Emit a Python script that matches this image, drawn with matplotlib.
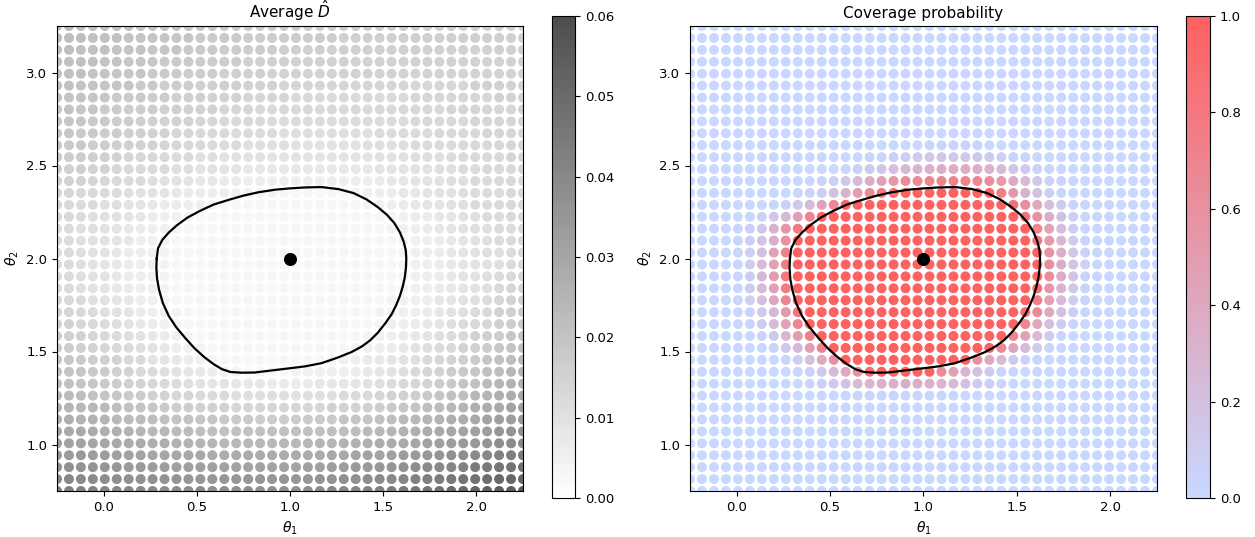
import numpy as np
import matplotlib
matplotlib.use("Agg")
import matplotlib.pyplot as plt
from matplotlib.colors import LinearSegmentedColormap

# ---------------- data ----------------
theta1_values = np.linspace(-0.25, 2.25, 40)   # grid columns
theta2_values = np.linspace(3.25, 0.75, 40)    # grid rows (top -> bottom)

# Average D-hat, in units of 0.001 (rows top -> bottom, columns left -> right)
avg_D_milli_rows = [
"23 23 22 22 21 21 21 20 20 20 20 19 19 19 18 18 18 18 18 18 18 17 17 17 17 17 17 17 17 17 17 16 16 16 16 16 16 16 16 16",
"23 22 22 21 21 21 20 20 20 19 19 19 18 18 18 18 17 17 17 17 17 17 17 17 16 16 16 16 16 16 16 16 16 16 16 16 16 16 16 16",
"22 22 21 21 21 20 20 20 19 19 19 18 18 18 17 17 17 17 17 16 16 16 16 16 16 16 16 16 16 16 16 15 15 15 15 15 15 16 16 16",
"22 21 21 21 20 20 19 19 19 18 18 18 17 17 17 17 16 16 16 16 15 15 15 15 15 15 15 15 15 15 15 15 15 15 15 15 15 15 15 15",
"21 21 21 20 20 19 19 19 18 18 18 17 17 17 16 16 16 16 15 15 15 15 15 15 15 15 15 15 15 15 15 15 15 15 15 15 15 15 15 15",
"21 21 20 20 19 19 19 18 18 17 17 17 16 16 16 16 15 15 15 14 14 14 14 14 14 14 14 14 14 14 14 14 14 14 14 15 15 15 15 15",
"21 20 20 19 19 18 18 18 17 17 16 16 16 15 15 15 14 14 14 14 13 13 13 13 13 13 13 13 13 13 14 14 14 14 14 14 14 15 15 15",
"20 20 19 19 18 18 17 17 17 16 16 15 15 15 14 14 14 13 13 13 13 13 13 13 13 13 13 13 13 13 13 13 13 14 14 14 14 14 14 15",
"20 19 19 18 18 17 17 16 16 15 15 15 14 14 13 13 13 13 12 12 12 12 12 12 12 12 12 12 12 12 13 13 13 13 13 14 14 14 14 14",
"19 19 18 18 17 17 16 16 15 15 14 14 13 13 13 12 12 12 12 11 11 11 11 11 11 11 11 12 12 12 12 12 13 13 13 13 14 14 14 14",
"19 18 18 17 17 16 16 15 15 14 14 13 13 12 12 12 11 11 11 11 10 10 10 10 10 10 11 11 11 11 12 12 12 12 13 13 13 14 14 14",
"18 17 17 16 16 15 14 14 13 13 12 12 11 11 10 10 10 10 9 9 9 9 9 9 9 9 9 10 10 10 11 11 11 12 12 13 13 13 14 14",
"17 16 16 15 15 14 13 13 12 12 11 11 10 10 9 9 8 8 8 8 8 8 8 8 8 8 8 9 9 9 10 10 11 11 12 12 13 13 13 14",
"16 15 15 14 14 13 12 12 11 10 10 9 8 8 7 7 6 6 6 6 6 6 6 6 6 6 6 7 8 8 9 9 10 11 11 12 12 13 13 13",
"15 14 13 13 12 12 11 10 10 9 8 7 7 6 6 5 5 4 4 3 3 3 3 3 3 4 5 6 7 8 8 9 10 10 11 12 12 12 13 13",
"14 13 12 12 11 11 10 9 8 7 7 6 5 4 3 3 3 3 3 3 3 3 3 3 3 3 4 5 6 7 8 9 9 10 11 12 12 12 13 13",
"13 13 12 11 10 10 9 8 7 6 5 4 3 3 3 3 3 3 3 3 3 3 3 3 3 3 3 3 4 5 7 7 8 9 10 11 12 12 13 13",
"13 12 11 11 10 9 8 7 6 5 4 3 3 3 3 3 3 3 3 3 3 3 3 3 3 3 3 3 4 5 6 7 8 9 10 11 11 12 12 13",
"13 12 11 10 10 9 8 6 5 4 3 3 3 3 3 3 3 3 3 3 3 3 3 3 3 3 3 3 3 4 5 6 7 8 9 10 11 12 12 13",
"13 12 11 10 9 8 7 6 5 4 3 3 3 3 3 3 3 3 3 3 3 3 3 3 3 3 3 3 3 4 5 6 7 8 9 10 11 11 12 13",
"12 12 11 10 9 8 7 6 5 4 3 3 3 3 3 3 3 3 3 3 3 3 3 3 3 3 3 3 3 4 5 6 7 8 9 10 10 11 12 13",
"13 12 11 10 9 8 7 6 5 4 3 3 3 3 3 3 3 3 3 3 3 3 3 3 3 3 3 3 3 4 5 6 7 8 9 10 11 12 13 14",
"13 12 11 10 9 8 7 6 5 4 3 3 3 3 3 3 3 3 3 3 3 3 3 3 3 3 3 3 3 4 5 6 7 8 9 10 11 13 14 15",
"14 13 12 11 10 9 8 6 5 4 3 3 3 3 3 3 3 3 3 3 3 3 3 3 3 3 3 3 4 5 5 6 8 9 10 11 12 14 15 16",
"15 14 13 12 11 10 9 7 6 5 4 3 3 3 3 3 3 3 3 3 3 3 3 3 3 3 3 4 4 5 6 7 8 10 11 12 13 15 16 17",
"16 15 14 13 12 11 10 8 7 5 4 3 3 3 3 3 3 3 3 3 3 3 3 3 3 3 3 4 5 6 7 8 9 11 12 13 14 16 17 18",
"17 16 15 14 13 12 11 10 8 7 5 4 3 3 3 3 3 3 3 3 3 3 3 3 3 3 4 5 6 7 8 9 11 12 13 15 16 17 19 20",
"18 17 16 15 14 13 12 11 10 8 6 5 4 3 3 3 3 3 3 3 3 3 3 3 3 4 5 6 7 8 10 11 12 13 15 16 17 19 20 22",
"20 19 18 17 16 15 13 12 10 9 8 7 5 4 3 3 3 3 3 3 3 3 3 4 5 6 7 8 9 10 11 12 14 15 16 18 19 21 22 24",
"21 20 19 18 17 16 15 13 12 11 10 9 8 7 5 4 3 3 3 3 4 5 5 6 6 7 8 9 10 11 13 14 15 17 18 19 21 22 24 25",
"22 21 20 19 18 17 16 15 14 13 12 11 10 9 9 8 8 8 7 7 7 7 8 8 8 9 10 11 12 13 14 15 17 18 20 21 23 24 26 27",
"24 23 22 21 20 19 18 17 16 15 14 14 13 12 12 11 11 11 11 11 10 11 11 11 12 12 13 14 15 16 17 18 20 21 22 24 25 27 28 30",
"26 25 24 24 23 22 21 20 19 18 17 17 16 16 15 14 14 14 14 14 14 14 14 15 15 15 16 17 18 19 20 22 23 24 25 27 28 29 31 32",
"28 27 26 26 25 24 23 23 22 21 20 20 19 19 18 18 18 17 17 17 17 18 18 18 19 19 20 21 22 23 24 25 26 27 28 29 31 32 33 35",
"30 29 29 28 27 27 26 25 24 24 23 23 22 22 21 21 21 21 21 21 21 21 21 22 22 22 23 24 25 26 27 28 29 30 31 32 33 35 36 37",
"32 31 31 30 30 29 28 28 27 27 26 26 25 25 24 24 24 24 24 24 24 24 25 25 26 26 27 28 28 29 30 31 32 33 34 35 36 38 39 40",
"35 34 34 33 33 32 31 31 30 30 29 29 29 28 28 28 28 28 28 28 28 28 28 29 29 30 31 31 32 33 34 35 36 37 38 39 40 42 43 44",
"37 37 36 36 35 35 34 34 33 33 32 32 32 32 31 31 31 31 31 31 31 32 32 33 33 34 34 35 36 37 38 39 40 41 42 44 45 46 47 48",
"40 40 39 39 38 38 37 37 37 36 36 35 35 35 35 35 35 35 35 35 35 35 36 36 37 37 38 39 40 41 42 43 44 45 47 48 49 50 51 52",
"43 43 42 42 41 41 41 40 40 39 39 39 39 38 38 38 38 38 38 38 38 39 39 40 40 41 42 43 44 45 46 47 48 50 51 52 53 54 55 56",
]

# Coverage probability, in percent (rows top -> bottom)
coverage_pct_rows = [
"0 0 0 0 0 0 0 0 0 0 0 0 0 0 0 0 0 0 0 0 0 0 0 0 0 0 0 0 0 0 0 0 0 0 0 0 0 0 0 0",
"0 0 0 0 0 0 0 0 0 0 0 0 0 0 0 0 0 0 0 0 0 0 0 0 0 0 0 0 0 0 0 0 0 0 0 0 0 0 0 0",
"0 0 0 0 0 0 0 0 0 0 0 0 0 0 0 0 0 0 0 0 0 0 0 0 0 0 0 0 0 0 0 0 0 0 0 0 0 0 0 0",
"0 0 0 0 0 0 0 0 0 0 0 0 0 0 0 0 0 0 0 0 0 0 0 0 0 0 0 0 0 0 0 0 0 0 0 0 0 0 0 0",
"0 0 0 0 0 0 0 0 0 0 0 0 0 0 0 0 0 0 0 0 0 0 0 0 0 0 0 0 0 0 0 0 0 0 0 0 0 0 0 0",
"0 0 0 0 0 0 0 0 0 0 0 0 0 0 0 0 0 0 0 0 0 0 0 0 0 0 0 0 0 0 0 0 0 0 0 0 0 0 0 0",
"0 0 0 0 0 0 0 0 0 0 0 0 0 0 0 0 0 0 0 0 0 0 0 0 0 0 0 0 0 0 0 0 0 0 0 0 0 0 0 0",
"0 0 0 0 0 0 0 0 0 0 0 0 0 0 0 0 0 0 0 0 0 0 0 0 0 0 0 0 0 0 0 0 0 0 0 0 0 0 0 0",
"0 0 0 0 0 0 0 0 0 0 0 0 0 0 0 0 0 0 0 0 0 0 0 0 0 0 0 0 0 0 0 0 0 0 0 0 0 0 0 0",
"0 0 0 0 0 0 0 0 0 0 0 0 0 0 0 0 0 0 0 0 0 0 0 0 0 0 0 0 0 0 0 0 0 0 0 0 0 0 0 0",
"0 0 0 0 0 0 0 0 0 0 0 0 0 0 0 0 0 0 0 0 2 2 2 2 2 0 0 0 0 0 0 0 0 0 0 0 0 0 0 0",
"0 0 0 0 0 0 0 0 0 0 0 0 0 0 0 2 4 6 9 11 13 14 14 14 13 10 7 4 2 0 0 0 0 0 0 0 0 0 0 0",
"0 0 0 0 0 0 0 0 0 0 0 0 0 3 6 10 15 20 26 30 33 35 36 36 34 30 24 17 10 5 2 0 0 0 0 0 0 0 0 0",
"0 0 0 0 0 0 0 0 0 0 0 3 7 14 24 35 46 55 62 66 68 70 70 70 68 62 52 38 24 12 5 2 0 0 0 0 0 0 0 0",
"0 0 0 0 0 0 0 0 0 2 4 9 18 32 50 65 80 90 100 100 100 100 100 100 100 100 75 52 32 18 8 3 0 0 0 0 0 0 0 0",
"0 0 0 0 0 0 0 2 5 12 25 45 68 100 100 100 100 100 100 100 100 100 100 100 100 100 100 86 62 40 22 10 4 1 0 0 0 0 0 0",
"0 0 0 0 0 2 6 14 28 48 70 100 100 100 100 100 100 100 100 100 100 100 100 100 100 100 100 100 85 58 35 18 8 3 1 0 0 0 0 0",
"0 0 0 0 2 6 15 32 55 80 100 100 100 100 100 100 100 100 100 100 100 100 100 100 100 100 100 100 100 70 43 22 8 3 1 0 0 0 0 0",
"0 0 0 0 2 6 16 35 60 100 100 100 100 100 100 100 100 100 100 100 100 100 100 100 100 100 100 100 100 84 52 28 11 4 1 0 0 0 0 0",
"0 0 0 0 2 8 21 44 73 100 100 100 100 100 100 100 100 100 100 100 100 100 100 100 100 100 100 100 100 100 60 34 15 5 1 0 0 0 0 0",
"0 0 0 0 2 9 25 47 77 100 100 100 100 100 100 100 100 100 100 100 100 100 100 100 100 100 100 100 100 100 63 36 17 5 1 0 0 0 0 0",
"0 0 0 0 3 10 27 50 80 100 100 100 100 100 100 100 100 100 100 100 100 100 100 100 100 100 100 100 100 100 63 36 17 5 1 0 0 0 0 0",
"0 0 0 0 2 9 25 47 77 100 100 100 100 100 100 100 100 100 100 100 100 100 100 100 100 100 100 100 100 90 57 32 14 4 1 0 0 0 0 0",
"0 0 0 0 2 7 20 41 70 100 100 100 100 100 100 100 100 100 100 100 100 100 100 100 100 100 100 100 100 77 47 25 9 3 0 0 0 0 0 0",
"0 0 0 0 1 4 11 28 52 84 100 100 100 100 100 100 100 100 100 100 100 100 100 100 100 100 100 100 92 65 40 20 8 2 0 0 0 0 0 0",
"0 0 0 0 0 3 10 24 45 70 100 100 100 100 100 100 100 100 100 100 100 100 100 100 100 100 100 95 68 42 22 9 3 0 0 0 0 0 0 0",
"0 0 0 0 0 1 4 12 28 50 75 100 100 100 100 100 100 100 100 100 100 100 100 100 100 100 100 70 45 25 10 3 0 0 0 0 0 0 0 0",
"0 0 0 0 0 0 1 4 12 27 48 73 100 100 100 100 100 100 100 100 100 100 100 100 100 100 68 44 24 10 3 0 0 0 0 0 0 0 0 0",
"0 0 0 0 0 0 0 0 3 8 20 40 60 100 100 100 100 100 100 100 100 100 100 100 60 40 25 12 5 2 0 0 0 0 0 0 0 0 0 0",
"0 0 0 0 0 0 0 0 0 2 5 12 25 40 60 90 100 100 100 100 100 65 45 30 18 10 4 1 0 0 0 0 0 0 0 0 0 0 0 0",
"0 0 0 0 0 0 0 0 0 0 3 7 12 18 25 30 34 35 35 35 33 29 24 18 12 7 3 0 0 0 0 0 0 0 0 0 0 0 0 0",
"0 0 0 0 0 0 0 0 0 0 0 0 0 0 2 2 2 2 2 2 2 2 2 0 0 0 0 0 0 0 0 0 0 0 0 0 0 0 0 0",
"0 0 0 0 0 0 0 0 0 0 0 0 0 0 0 0 0 0 0 0 0 0 0 0 0 0 0 0 0 0 0 0 0 0 0 0 0 0 0 0",
"0 0 0 0 0 0 0 0 0 0 0 0 0 0 0 0 0 0 0 0 0 0 0 0 0 0 0 0 0 0 0 0 0 0 0 0 0 0 0 0",
"0 0 0 0 0 0 0 0 0 0 0 0 0 0 0 0 0 0 0 0 0 0 0 0 0 0 0 0 0 0 0 0 0 0 0 0 0 0 0 0",
"0 0 0 0 0 0 0 0 0 0 0 0 0 0 0 0 0 0 0 0 0 0 0 0 0 0 0 0 0 0 0 0 0 0 0 0 0 0 0 0",
"0 0 0 0 0 0 0 0 0 0 0 0 0 0 0 0 0 0 0 0 0 0 0 0 0 0 0 0 0 0 0 0 0 0 0 0 0 0 0 0",
"0 0 0 0 0 0 0 0 0 0 0 0 0 0 0 0 0 0 0 0 0 0 0 0 0 0 0 0 0 0 0 0 0 0 0 0 0 0 0 0",
"0 0 0 0 0 0 0 0 0 0 0 0 0 0 0 0 0 0 0 0 0 0 0 0 0 0 0 0 0 0 0 0 0 0 0 0 0 0 0 0",
"0 0 0 0 0 0 0 0 0 0 0 0 0 0 0 0 0 0 0 0 0 0 0 0 0 0 0 0 0 0 0 0 0 0 0 0 0 0 0 0",
]

# Confidence-region boundary (closed curve) in (theta1, theta2)
region_theta1 = [0.285, 0.292, 0.315, 0.35, 0.395, 0.45, 0.515, 0.59, 0.67, 0.75, 0.83, 0.92,
                 1.00, 1.08, 1.17, 1.26, 1.34, 1.41, 1.47, 1.52, 1.56, 1.59, 1.61, 1.621,
                 1.624, 1.622, 1.616, 1.605, 1.59, 1.57, 1.545, 1.51, 1.47, 1.43, 1.385, 1.33,
                 1.25, 1.168, 1.08, 1.00, 0.90, 0.81, 0.74, 0.68, 0.635, 0.59, 0.54, 0.49,
                 0.44, 0.39, 0.35, 0.318, 0.298, 0.287, 0.283, 0.285]
region_theta2 = [2.00, 2.055, 2.10, 2.14, 2.18, 2.22, 2.255, 2.29, 2.315, 2.338, 2.356, 2.37,
                 2.377, 2.382, 2.384, 2.373, 2.352, 2.318, 2.277, 2.235, 2.19, 2.14, 2.09, 2.045,
                 2.00, 1.95, 1.90, 1.85, 1.80, 1.75, 1.70, 1.65, 1.60, 1.56, 1.527, 1.497,
                 1.465, 1.437, 1.42, 1.41, 1.398, 1.387, 1.386, 1.39, 1.405, 1.432, 1.47, 1.515,
                 1.57, 1.63, 1.69, 1.76, 1.83, 1.89, 1.95, 2.00]

true_theta = (1.0, 2.0)

D_ticks = [0.00, 0.01, 0.02, 0.03, 0.04, 0.05, 0.06]
cov_ticks = [0.0, 0.2, 0.4, 0.6, 0.8, 1.0]
x_ticks = [0.0, 0.5, 1.0, 1.5, 2.0]
y_ticks = [1.0, 1.5, 2.0, 2.5, 3.0]

# ---------------- build arrays ----------------
avg_D = np.array([[int(t) for t in r.split()] for r in avg_D_milli_rows]) / 1000.0
coverage = np.array([[int(t) for t in r.split()] for r in coverage_pct_rows]) / 100.0
T1, T2 = np.meshgrid(theta1_values, theta2_values)

gray_cmap = LinearSegmentedColormap.from_list("g", ["#ffffff", "#4d4d4d"])
cov_cmap = LinearSegmentedColormap.from_list("c", ["#c8d8ff", "#ff6060"])

fig = plt.figure(figsize=(12.55, 5.37), dpi=100)
W, H = 1255.0, 537.0

def ax_rect(x0, y0, x1, y1):
    return [x0 / W, 1 - y1 / H, (x1 - x0) / W, (y1 - y0) / H]

axL = fig.add_axes(ax_rect(57, 26, 523, 491))
caxL = fig.add_axes(ax_rect(552, 16, 575, 498))
axR = fig.add_axes(ax_rect(690, 26, 1157, 491))
caxR = fig.add_axes(ax_rect(1186, 16, 1210, 498))

dot_size = 52

scL = axL.scatter(T1.ravel(), T2.ravel(), c=avg_D.ravel(), cmap=gray_cmap,
                  vmin=0, vmax=0.06, s=dot_size, linewidths=0)
scR = axR.scatter(T1.ravel(), T2.ravel(), c=coverage.ravel(), cmap=cov_cmap,
                  vmin=0, vmax=1, s=dot_size, linewidths=0)

for ax, title in [(axL, r"Average $\hat{D}$"), (axR, "Coverage probability")]:
    ax.plot(region_theta1, region_theta2, color="black", lw=1.6, zorder=3)
    ax.scatter([true_theta[0]], [true_theta[1]], color="black", s=70, zorder=4)
    ax.set_xlim(-0.25, 2.25)
    ax.set_ylim(0.75, 3.25)
    ax.set_xticks(x_ticks)
    ax.set_yticks(y_ticks)
    ax.tick_params(labelsize=9.5)
    ax.set_xlabel(r"$\theta_1$", fontsize=10)
    ax.set_ylabel(r"$\theta_2$", fontsize=10)
    ax.set_title(title, fontsize=11)

cbL = fig.colorbar(scL, cax=caxL, ticks=D_ticks)
cbL.ax.set_yticklabels([f"{t:.2f}" for t in D_ticks])
cbR = fig.colorbar(scR, cax=caxR, ticks=cov_ticks)
cbR.ax.set_yticklabels([f"{t:.1f}" for t in cov_ticks])
for cb in (cbL, cbR):
    cb.ax.tick_params(labelsize=9.5)

fig.savefig("out.png", dpi=100)
